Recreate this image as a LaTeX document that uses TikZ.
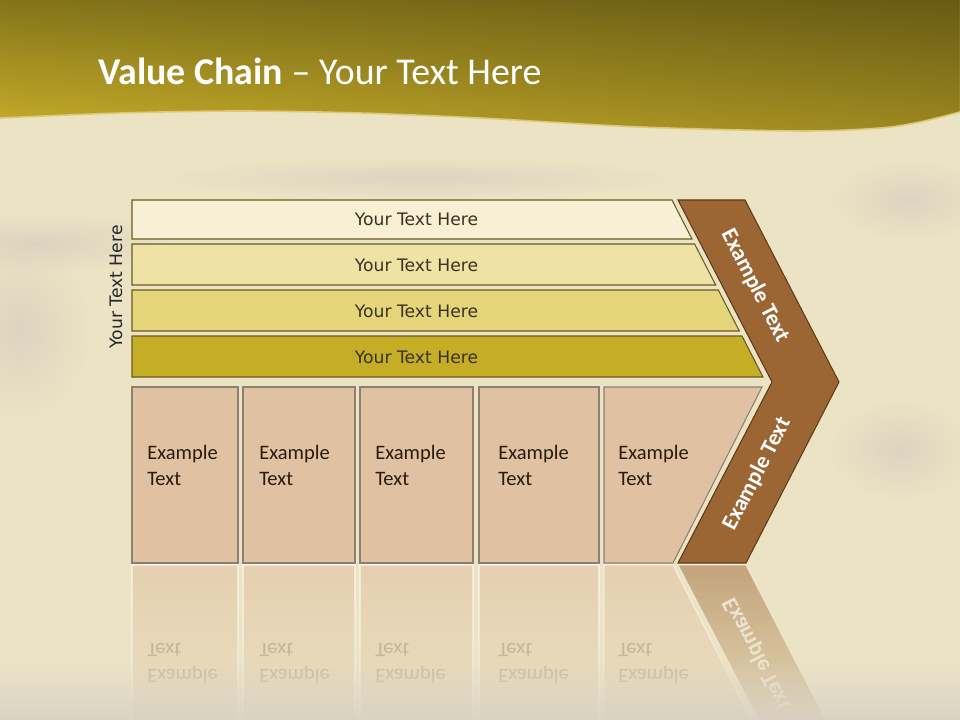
\documentclass[tikz,border=0pt]{standalone}
\usepackage{fontspec}
\setmainfont{Carlito}
\newfontfamily\dejavu{DejaVu Sans}
\usetikzlibrary{fadings}
\definecolor{bgc}{HTML}{ECE3C5}
\definecolor{smudge}{HTML}{CFC8BC}
\definecolor{fogc}{HTML}{D3CEC5}
\definecolor{bandtop}{HTML}{85751B}
\definecolor{bandbot}{HTML}{C8AE2A}
\definecolor{bandedge}{HTML}{DCC978}
\definecolor{barA}{HTML}{F8F0D4}
\definecolor{barB}{HTML}{EEE3A4}
\definecolor{barC}{HTML}{E4D47A}
\definecolor{barD}{HTML}{C6AD26}
\definecolor{bardraw}{HTML}{6A5A22}
\definecolor{boxfill}{HTML}{E0C2A2}
\definecolor{boxdraw}{HTML}{8C8070}
\definecolor{chevfill}{HTML}{9B6633}
\definecolor{chevdraw}{HTML}{5E3C18}
\definecolor{bartextc}{HTML}{3A3223}
\definecolor{boxtextc}{HTML}{2A1B0C}
\tikzfading[name=softc, inner color=transparent!45, outer color=transparent!100]
\tikzset{
  barbox/.style={draw=bardraw, line width=0.8},
  bartext/.style={font=\dejavu\fontsize{12.9}{15}\selectfont, text=bartextc, inner sep=0},
  boxst/.style={fill=boxfill, draw=boxdraw, line width=0.8},
  boxtext/.style={font=\fontsize{15.4}{19}\selectfont, text=boxtextc, inner sep=0, anchor=base west},
  chev/.style={fill=chevfill, draw=chevdraw, line width=0.8},
  chevtext/.style={font=\bfseries\fontsize{17}{20}\selectfont, text=white, inner sep=0},
  smudgest/.style={fill=smudge, path fading=softc},
}
\newcommand{\drawboxes}{%
  \path[boxst] (132,387) rectangle (238,563);
  \path[boxst] (243,387) rectangle (355,563);
  \path[boxst] (360,387) rectangle (473,563);
  \path[boxst] (479,387) rectangle (599,563);
  \path[boxst] (604,387) -- (762,387) -- (673,563) -- (604,563) -- cycle;
  \node[boxtext] (e1a) at (147,459) {Example};
  \node[boxtext] (e1b) at (147,485) {Text};
  \node[boxtext] (e2a) at (259,459) {Example};
  \node[boxtext] (e2b) at (259,485) {Text};
  \node[boxtext] (e3a) at (375,459) {Example};
  \node[boxtext] (e3b) at (375,485) {Text};
  \node[boxtext] (e4a) at (498,459) {Example};
  \node[boxtext] (e4b) at (498,485) {Text};
  \node[boxtext] (e5a) at (618,459) {Example};
  \node[boxtext] (e5b) at (618,485) {Text};
}
\newcommand{\drawchevron}{%
  \path[chev] (678,200) -- (745,200) -- (839,382) -- (746,563) -- (678,563) -- (772,382) -- cycle;
  \node[chevtext, rotate=-62.7] (c1) at (755,286) {Example Text};
  \node[chevtext, rotate=62.7] (c2) at (757,474) {Example Text};
}
\begin{document}
\begin{tikzpicture}[x=0.75pt,y=-0.75pt]
\useasboundingbox (0,0) rectangle (960,720);
\fill[bgc] (0,0) rectangle (960,720);
% background smudges
\fill[smudgest] (40,243) ellipse [x radius=140, y radius=30];
\fill[smudgest] (20,330) ellipse [x radius=70, y radius=90];
\fill[smudgest] (420,178) ellipse [x radius=260, y radius=20];
\fill[smudgest] (910,200) ellipse [x radius=80, y radius=40];
\fill[smudgest] (900,450) ellipse [x radius=70, y radius=50];
% top band
\shade[top color=bandtop, bottom color=bandbot]
  (0,0) -- (960,0) -- plot[smooth] coordinates {(960,112) (920,122) (880,128) (800,131) (640,127) (480,118) (360,113) (240,111) (120,113) (0,118)} -- cycle;
\fill[black, opacity=0.22, path fading=west]
  (0,0) -- (960,0) -- plot[smooth] coordinates {(960,112) (920,122) (880,128) (800,131) (640,127) (480,118) (360,113) (240,111) (120,113) (0,118)} -- cycle;
\draw[bandedge, line width=1.2] plot[smooth] coordinates {(960,112) (920,122) (880,128) (800,131) (640,127) (480,118) (360,113) (240,111) (120,113) (0,118)};
\node[anchor=base west, inner sep=0, text=white, font=\fontsize{28.4}{32}\selectfont] (title) at (98,85) {\textbf{Value Chain} -- Your Text Here};
% bars
\path[barbox, fill=barA] (132,200) -- (672,200) -- (692,239) -- (132,239) -- cycle;
\path[barbox, fill=barB] (132,244) -- (694.6,244) -- (715.7,285) -- (132,285) -- cycle;
\path[barbox, fill=barC] (132,290) -- (718.3,290) -- (739.3,331) -- (132,331) -- cycle;
\path[barbox, fill=barD] (132,336) -- (742,336) -- (763,377) -- (132,377) -- cycle;
\node[bartext] (b1) at (416.5,219.5) {Your Text Here};
\node[bartext] (b2) at (416.5,265.5) {Your Text Here};
\node[bartext] (b3) at (416.5,311.5) {Your Text Here};
\node[bartext] (b4) at (416.5,357.5) {Your Text Here};
\node[bartext, text=black!85, rotate=90] (side) at (116,287) {Your Text Here};
% boxes and chevron
\drawboxes
\drawchevron
% reflection
\begin{scope}[cm={1,0,0,-1,(0pt,-846pt)}, transform shape]
  \tikzset{
    boxst/.style={fill=boxfill, fill opacity=0.55, draw=white, draw opacity=0.55, line width=1},
    boxtext/.style={font=\fontsize{15.4}{19}\selectfont, text=black!60!boxfill, text opacity=0.45, inner sep=0, anchor=base west},
    chev/.style={fill=chevfill, fill opacity=0.5, draw=white, draw opacity=0.5, line width=1},
    chevtext/.style={font=\bfseries\fontsize{17}{20}\selectfont, text=white, text opacity=0.7, inner sep=0},
  }
  \drawboxes
  \drawchevron
\end{scope}
\fill[bgc, path fading=north] (0,564) rectangle (960,765);
\fill[fogc, path fading=north] (0,660) rectangle (960,745);
\end{tikzpicture}
\end{document}
